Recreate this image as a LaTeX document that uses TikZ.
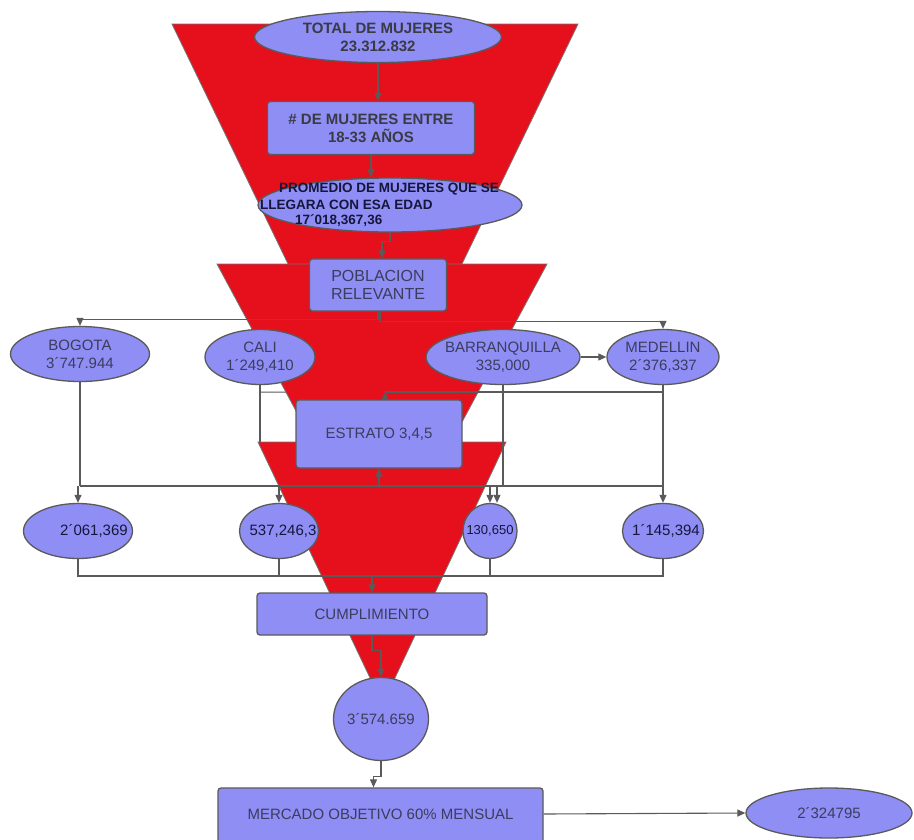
\documentclass[tikz,border=0pt]{standalone}
\usepackage{fontspec}
\setmainfont{Liberation Sans}
\usetikzlibrary{shapes.geometric,arrows.meta}
\definecolor{fred}{HTML}{E6101C}
\definecolor{peri}{HTML}{8E8EF5}
\definecolor{edgec}{HTML}{5A5A5A}
\definecolor{txt}{HTML}{3C3C5E}
\definecolor{navy}{HTML}{16163C}
\definecolor{boldc}{HTML}{3A3A44}
\pgfdeclarelayer{back}
\pgfdeclarelayer{funnels}
\pgfdeclarelayer{lines}
\pgfsetlayers{back,funnels,lines,main}
\begin{document}
\begin{tikzpicture}[x=1pt,y=-1pt,
 ell/.style={ellipse,draw=edgec,fill=peri,line width=1.3pt,inner sep=0pt},
 box/.style={rectangle,rounded corners=3pt,draw=edgec,fill=peri,line width=1.3pt,inner sep=0pt},
 tx/.style={font=\fontsize{15}{18}\selectfont,text=txt,align=center},
 txb/.style={font=\bfseries\fontsize{15}{18}\selectfont,text=boldc,align=center},
 txn/.style={font=\fontsize{15}{18}\selectfont,text=navy,align=center},
 txp/.style={font=\bfseries\fontsize{13.5}{16}\selectfont,text=navy,anchor=west,inner sep=0pt},
 conn/.style={draw=edgec,line width=1.1pt},
 arr/.style={conn,-{Triangle[length=8pt,width=7pt]}},
 funnel/.style={fill=fred,draw=edgec!85,line width=0.8pt,line join=miter}]
\useasboundingbox (0,0) rectangle (914,839);
\begin{pgfonlayer}{back}
\fill[white] (0,0) rectangle (914,839);
\end{pgfonlayer}
\coordinate (busm) at (0,392);
\coordinate (busy) at (0,486);
\coordinate (busl) at (0,576);

\path
 (378,37)  node[ell,minimum width=247pt,minimum height=51pt,label={[txb]center:TOTAL DE MUJERES\\23.312.832}] (total) {}
 (371,128) node[box,txb,minimum width=207pt,minimum height=53pt] (edad) {\# DE MUJERES ENTRE\\18-33 AÑOS}
 (390,205) node[ell,minimum width=264pt,minimum height=54pt] (prom) {}
 (378,285) node[box,tx,font=\fontsize{16}{18.5}\selectfont,minimum width=137pt,minimum height=52pt] (pob) {POBLACION\\RELEVANTE}
 (80,354)  node[ell,minimum width=139pt,minimum height=55pt,label={[tx]center:BOGOTA\\3´747.944}] (bog) {}
 (260,357) node[ell,minimum width=110pt,minimum height=55pt,label={[tx]center:CALI\\1´249,410}] (cali) {}
 (503,357) node[ell,minimum width=154pt,minimum height=55pt,label={[tx]center:BARRANQUILLA\\335,000}] (barr) {}
 (663,357) node[ell,minimum width=112pt,minimum height=55pt,label={[tx]center:MEDELLIN\\2´376,337}] (med) {}
 (379,434) node[box,tx,minimum width=166pt,minimum height=68pt] (estr) {ESTRATO 3,4,5}
 (78,531)  node[ell,minimum width=109pt,minimum height=55pt,label={[txn,xshift=16pt]center:2´061,369}] (r1) {}
 (279,531) node[ell,minimum width=79pt,minimum height=55pt,label={[txn,xshift=4pt]center:537,246,3}] (r2) {}
 (490,531) node[ell,minimum width=54pt,minimum height=55pt,label={[txn,font=\fontsize{13}{15}\selectfont]center:130,650}] (r3) {}
 (663,531) node[ell,minimum width=81pt,minimum height=55pt,label={[txn,xshift=3pt]center:1´145,394}] (r4) {}
 (372,614) node[box,tx,minimum width=230pt,minimum height=42pt] (cump) {CUMPLIMIENTO}
 (381,719) node[ell,minimum width=95pt,minimum height=83pt,label={[tx]center:3´574.659}] (tot2) {}
 (380.5,818) node[box,minimum width=325pt,minimum height=60pt,label={[tx,yshift=4pt]center:MERCADO OBJETIVO 60\% MENSUAL}] (merc) {}
 (829,813) node[ell,minimum width=166pt,minimum height=50pt,label={[tx]center:2´324795}] (fin) {};

\node[txp] (p1) at (279,189) {PROMEDIO DE MUJERES QUE SE};
\node[txp] (p2) at (260,205) {LLEGARA CON ESA EDAD};
\node[txp] (p3) at (295,221) {17´018,367,36};

% lines hidden behind the funnels
\begin{pgfonlayer}{back}
\draw[conn] (cali.south) -- (cali.south |- 0,446);
\draw[conn] (cali.south) ++(0,7) -- ([xshift=6pt]estr.north |- busm);
\end{pgfonlayer}

% funnels
\begin{pgfonlayer}{funnels}
\draw[funnel] (172,24) -- (578,24) -- (459,270) -- (291,270) -- cycle;
\draw[funnel] (217,264) -- (547,264) -- (448,448) -- (316,448) -- cycle;
\draw[funnel] (258,442) -- (506,442) -- (393,682) -- (372,682) -- cycle;
\end{pgfonlayer}

% connectors
\begin{pgfonlayer}{lines}
\draw[arr] (total.south) -- (total.south |- edad.north);
\draw[arr] (edad.south) -- (edad.south |- prom.north);
\draw[arr] (prom.south) -- ++(0,9) -| ([xshift=4pt]pob.north);
\draw[arr] (pob.south) -- ++(0,8) -| (bog.north);
\draw[arr] ([xshift=2pt]pob.south) -- ++(0,10) -| (med.north);
\draw[arr] (barr.east) -- (med.west);
% to estrato
\draw[arr] ([xshift=6pt]estr.north) -- ([xshift=6pt]estr.north |- busm);
\draw[conn] ([xshift=6pt]estr.north |- busm) -- (med.south |- busm);
\draw[conn] (barr.south) -- (barr.south |- busy);
\draw[conn] (med.south) -- (med.south |- busy);
\draw[conn] (bog.south) -- (bog.south |- busy);
\draw[conn] (bog.south |- busy) -- (med.south |- busy);
\draw[arr] (estr.south |- busy) -- (estr.south);
% into lower row
\draw[arr] (r1.north |- busy) -- (r1.north);
\draw[arr] (r2.north |- busy) -- (r2.north);
\draw[arr] (r3.north |- busy) -- (r3.north);
\draw[arr] ([xshift=7pt]r3.north |- busy) -- ([xshift=7pt]r3.north);
\draw[arr] (r4.north |- busy) -- (r4.north);
% to cumplimiento
\draw[conn] (r1.south) -- (r1.south |- busl) -- (r4.south |- busl) -- (r4.south);
\draw[conn] (r2.south) -- (r2.south |- busl);
\draw[conn] (r3.south) -- (r3.south |- busl);
\draw[arr] (cump.north |- busl) -- (cump.north);
\draw[arr] (cump.south) -- ++(0,15) -| (tot2.north);
\draw[arr] (tot2.south) -- ++(0,15) -| ([xshift=-7pt]merc.north);
\draw[arr] ([yshift=4pt]merc.east) -- (fin.west);
\end{pgfonlayer}
\end{tikzpicture}
\end{document}
